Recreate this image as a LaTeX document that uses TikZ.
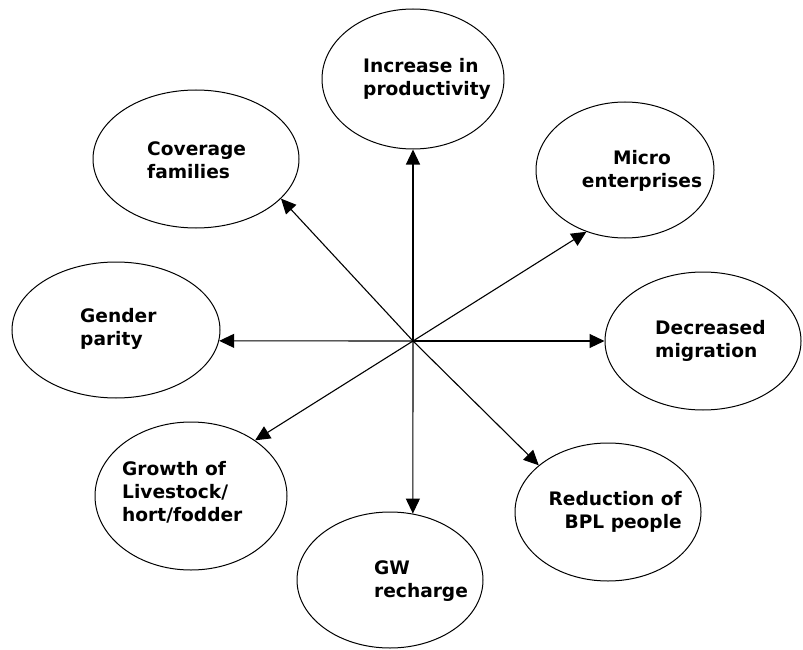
\documentclass[tikz,border=0pt]{standalone}
\usepackage{fontspec}
\setmainfont{DejaVu Sans}
\usetikzlibrary{shapes.geometric,arrows.meta}
\begin{document}
\begin{tikzpicture}[x=1pt,y=-1pt,
  oval/.style 2 args={ellipse,draw,line width=1pt,inner sep=0pt,
    minimum width=#1pt,minimum height=#2pt},
  lbl/.style={inner sep=0pt,font=\fontsize{18.6}{23}\selectfont\bfseries},
  link/.style={line width=1.1pt,-{Triangle[length=15pt,width=14pt]}}]
\useasboundingbox (0,0) rectangle (803,650);

% outcome ellipses
\node[oval={182}{140}] (inc) at (413,79) {};
\node[oval={206}{138}] (cov) at (196,159) {};
\node[oval={178}{136}] (mic) at (625,170) {};
\node[oval={208}{136}] (gen) at (116,330) {};
\node[oval={196}{138}] (dec) at (703,341) {};
\node[oval={192}{148}] (gro) at (191,496) {};
\node[oval={186}{138}] (red) at (608,512) {};
\node[oval={186}{136}] (gw)  at (390,580) {};

% labels
\node[lbl,anchor=west,align=left]   (tinc) at (363,79)  {Increase in\\productivity};
\node[lbl,anchor=west,align=left]   (tcov) at (147,160) {Coverage\\families};
\node[lbl,align=center]             (tmic) at (642,171) {Micro\\enterprises};
\node[lbl,anchor=west,align=left]   (tgen) at (80,329)  {Gender\\parity};
\node[lbl,anchor=west,align=left]   (tdec) at (655,341) {Decreased\\migration};
\node[lbl,anchor=west,align=left]   (tgro) at (122,492) {Growth of\\Livestock/\\hort/fodder};
\node[lbl,anchor=east,align=right]  (tred) at (682,512) {Reduction of\\BPL people};
\node[lbl,anchor=west,align=left]   (tgw)  at (374,581) {GW\\recharge};

% hub and spokes
\coordinate (hub) at (413,341);
\draw[link] (hub) -- (inc.south);
\draw[link] (hub) -- (gw.71);
\draw[link] (hub) -- (gen.354);
\draw[link] (hub) -- (dec.180);
\draw[link] (hub) -- (mic.238.7);
\draw[link] (hub) -- (cov.335.4);
\draw[link] (hub) -- (gro.41.4);
\draw[link] (hub) -- (red.146.7);
\end{tikzpicture}
\end{document}
